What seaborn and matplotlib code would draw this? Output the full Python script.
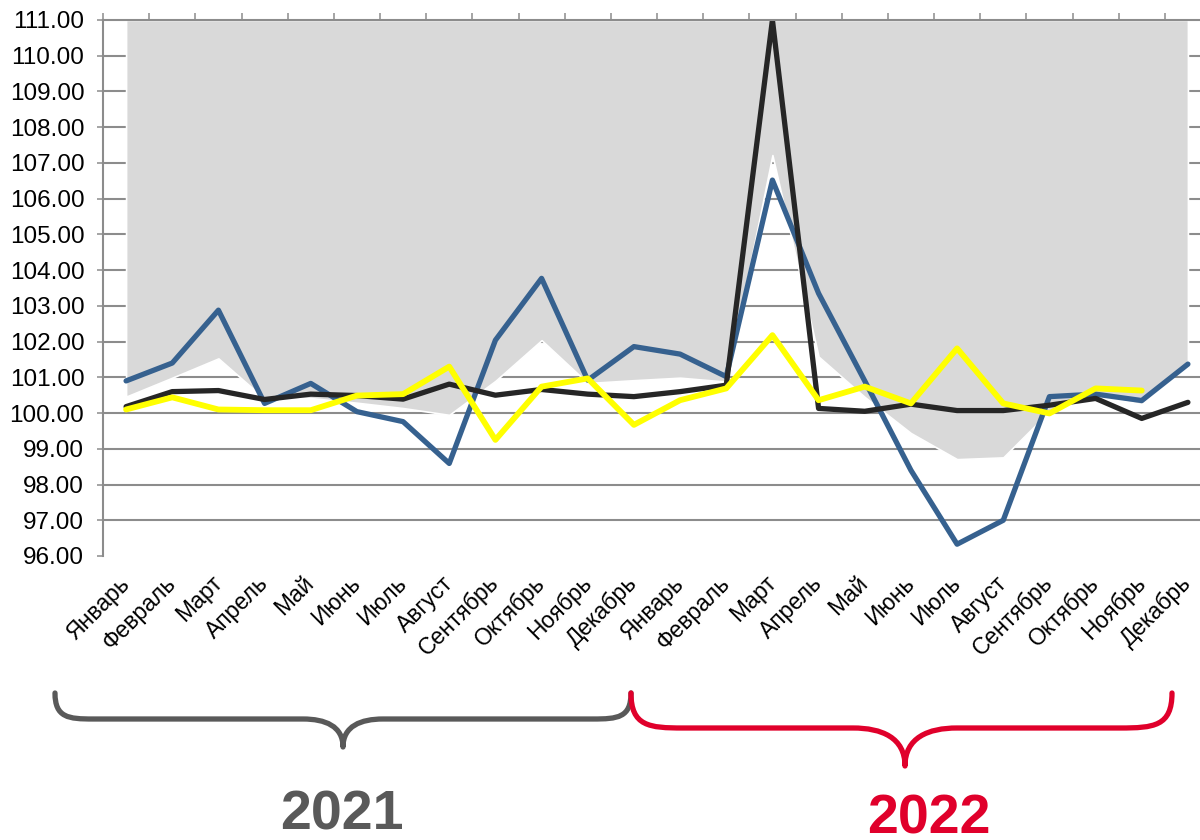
import numpy as np
import pandas as pd
import matplotlib
matplotlib.use("Agg")
import matplotlib.pyplot as plt
from matplotlib.path import Path
from matplotlib.patches import PathPatch
import seaborn as sns

# ---------------- data ----------------
months = ['Январь', 'Февраль', 'Март', 'Апрель', 'Май', 'Июнь', 'Июль', 'Август',
          'Сентябрь', 'Октябрь', 'Ноябрь', 'Декабрь']
categories = months + months
years = ['2021', '2022']

blue_vals = [100.90, 101.40, 102.88, 100.27, 100.83, 100.04, 99.76, 98.59,
             102.04, 103.77, 100.92, 101.86, 101.65, 101.02, 106.52, 103.35,
             100.90, 98.40, 96.33, 97.00, 100.46, 100.53, 100.35, 101.37]
black_vals = [100.18, 100.60, 100.63, 100.38, 100.53, 100.49, 100.39, 100.81,
              100.50, 100.66, 100.53, 100.46, 100.60, 100.78, 111.00, 100.13,
              100.05, 100.25, 100.07, 100.07, 100.22, 100.41, 99.85, 100.30]
yellow_vals = [100.10, 100.44, 100.10, 100.08, 100.08, 100.49, 100.53, 101.30,
               99.25, 100.74, 100.97, 99.67, 100.36, 100.69, 102.18, 100.36,
               100.74, 100.27, 101.81, 100.27, 99.99, 100.69, 100.63, np.nan]
band_low = [100.46, 100.99, 101.53, 100.40, 100.42, 100.29, 100.14, 99.95,
            100.90, 102.04, 100.84, 100.92, 100.99, 100.88, 107.22, 101.58,
            100.45, 99.44, 98.71, 98.76, 100.05, 100.50, 100.25, 101.40]
band_high = [111.0] * 24
y_ticks = list(range(96, 112))

# ---------------- style ----------------
sns.set_theme(style="white")
plt.rcParams['font.family'] = ['Liberation Sans', 'DejaVu Sans']

GRID = '#8c8c8c'
C_BLUE = '#36618f'
C_BLACK = '#262626'
C_YELLOW = '#ffff00'
C_BAND = '#d9d9d9'
C_GREY_TXT = '#595959'
C_RED = '#e0002b'

W, H = 1200, 840
fig = plt.figure(figsize=(W / 100, H / 100), dpi=100)
fig.patch.set_facecolor('white')

ax_l, ax_r, ax_t, ax_b = 103, 1211, 20, 556
ax = fig.add_axes([ax_l / W, 1 - ax_b / H, (ax_r - ax_l) / W, (ax_b - ax_t) / H])
ax.set_facecolor('none')

x = np.arange(len(categories))
df = pd.DataFrame({'x': x, 'blue': blue_vals, 'black': black_vals,
                   'yellow': yellow_vals, 'low': band_low, 'high': band_high})

# gridlines (below the band)
ax.hlines(y_ticks[1:-1], -0.5, 23.5, colors=GRID, linewidth=1.5, zorder=0)

# grey band
ax.fill_between(df['x'], df['low'], df['high'], color=C_BAND,
                edgecolor='white', linewidth=1.2, zorder=1)

# lines
sns.lineplot(data=df, x='x', y='blue', color=C_BLUE, linewidth=3.8, ax=ax,
             zorder=3, sort=False)
sns.lineplot(data=df, x='x', y='black', color=C_BLACK, linewidth=3.8, ax=ax,
             zorder=4, sort=False)
sns.lineplot(data=df, x='x', y='yellow', color=C_YELLOW, linewidth=4.2, ax=ax,
             zorder=5, sort=False)

ax.set_xlim(-0.5, 23.5)
ax.set_ylim(96, 111)
ax.set_xlabel('')
ax.set_ylabel('')

# y axis
ax.set_yticks(y_ticks)
ax.set_yticklabels([f'{v:.2f}' for v in y_ticks], fontsize=17.5, color='black')
ax.tick_params(axis='y', which='major', left=True, length=4.5, width=1.1,
               color=GRID, pad=9, direction='out')

# x axis: labels at bottom, axis line with ticks at top
ax.set_xticks(x)
ax.set_xticklabels(categories, rotation=45, ha='right', va='center',
                   rotation_mode='anchor', fontsize=16.5, color='black')
ax.tick_params(axis='x', which='major', bottom=True, top=False, length=0, pad=17)
ax.set_xticks(np.arange(-0.5, 24, 1.0), minor=True)
ax.tick_params(axis='x', which='minor', bottom=False, top=True, length=5,
               width=1.1, color=GRID, direction='out')

for side in ['right', 'bottom']:
    ax.spines[side].set_visible(False)
for side in ['left', 'top']:
    ax.spines[side].set_visible(True)
    ax.spines[side].set_color(GRID)
    ax.spines[side].set_linewidth(1.5)
    ax.spines[side].set_zorder(6)

# ---------------- braces and years ----------------
ov = fig.add_axes([0, 0, 1, 1], zorder=-1)
ov.set_xlim(0, W)
ov.set_ylim(H, 0)
ov.axis('off')
ov.patch.set_alpha(0)


def brace(x0, x1, xm, yt, yb, ytip, r, r2, color):
    verts = [
        (x0, yt),
        (x0, yt + (yb - yt) * 0.95), (x0 + r * 0.35, yb), (x0 + r, yb),
        (xm - r2, yb),
        (xm - r2 * 0.45, yb), (xm, yb + (ytip - yb) * 0.25), (xm, ytip),
        (xm, yb + (ytip - yb) * 0.25), (xm + r2 * 0.45, yb), (xm + r2, yb),
        (x1 - r, yb),
        (x1 - r * 0.35, yb), (x1, yt + (yb - yt) * 0.95), (x1, yt),
    ]
    codes = [Path.MOVETO,
             Path.CURVE4, Path.CURVE4, Path.CURVE4,
             Path.LINETO,
             Path.CURVE4, Path.CURVE4, Path.CURVE4,
             Path.CURVE4, Path.CURVE4, Path.CURVE4,
             Path.LINETO,
             Path.CURVE4, Path.CURVE4, Path.CURVE4]
    ov.add_patch(PathPatch(Path(verts, codes), facecolor='none', edgecolor=color,
                           linewidth=3.8, capstyle='round', joinstyle='round'))


brace(55, 631, 343, 693, 719, 747, 38, 40, C_GREY_TXT)
brace(631, 1172, 905, 693, 728, 766, 52, 52, C_RED)

ov.text(342, 815, years[0], ha='center', va='center', fontsize=40,
        fontweight='bold', color=C_GREY_TXT)
ov.text(929, 820, years[1], ha='center', va='center', fontsize=40,
        fontweight='bold', color=C_RED)

fig.savefig('out.png', dpi=100, facecolor='white')
